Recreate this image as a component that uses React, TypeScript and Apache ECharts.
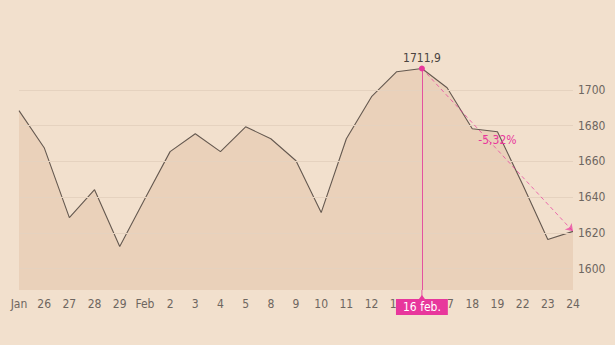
import React, { useEffect, useRef } from "react";
import * as echarts from "echarts";

const categories = ["Jan", "26", "27", "28", "29", "Feb", "2", "3", "4", "5", "8", "9", "10", "11", "12", "15", "16", "17", "18", "19", "22", "23", "24"];
const values = [1688.3, 1667.6, 1628.5, 1644.1, 1612.3, 1639.0, 1665.4, 1675.4, 1665.4, 1679.3, 1672.6, 1660.3, 1631.3, 1672.6, 1696.1, 1710.1, 1711.9, 1701.1, 1678.2, 1676.5, 1647.0, 1616.2, 1620.8];
const gridValues = [1600, 1620, 1640, 1660, 1680, 1700];
const peakCategory = "16";
const peakValue = 1711.9;
const peakLabel = "1711,9";
const peakDateLabel = "16 feb.";
const lastCategory = "24";
const lastValue = 1620.8;
const changeLabel = "-5,32%";
const midCategory = "19";

const PINK = "#E8379C";
const FONT = "'Liberation Sans Narrow', 'DejaVu Sans Condensed', sans-serif";
const BG = "#F2E0CD";

export default function App() {
  const ref = useRef<HTMLDivElement>(null);
  useEffect(() => {
    document.body.style.margin = "0";
    document.body.style.background = BG;
    const chart = echarts.init(ref.current!, null, { renderer: "svg" });
    const yMin = 1588;
    const yMax = 1720;
    chart.setOption({
      animation: false,
      backgroundColor: BG,
      textStyle: { fontFamily: FONT },
      grid: { left: 19, right: 42, top: 54, bottom: 55 },
      xAxis: {
        type: "category",
        data: categories,
        boundaryGap: false,
        axisLine: { show: false },
        axisTick: { show: false },
        splitLine: { show: false },
        axisLabel: { color: "#6E6660", fontSize: 12, margin: 8, fontFamily: FONT, interval: 0 },
      },
      yAxis: {
        type: "value",
        position: "right",
        min: yMin,
        max: yMax,
        splitNumber: 7,
        axisLine: { show: false },
        axisTick: { show: false },
        splitLine: { show: false },
        axisLabel: {
          color: "#6E6660",
          fontSize: 12,
          margin: 5,
          fontFamily: FONT,
          showMinLabel: false,
          showMaxLabel: false,
          formatter: (v: number) => (gridValues.indexOf(v) >= 0 ? String(v) : ""),
        },
      },
      series: [
        {
          type: "line",
          data: values,
          z: 1,
          showSymbol: false,
          silent: true,
          lineStyle: { opacity: 0 },
          areaStyle: { color: "#EAD1BA", opacity: 1 },
          markLine: {
            silent: true,
            symbol: "none",
            label: { show: false },
            lineStyle: { color: "#E5D2BF", width: 1, type: "solid" },
            data: gridValues.map((v) => ({ yAxis: v })),
          },
        },
        {
          type: "line",
          data: values,
          z: 3,
          showSymbol: false,
          silent: true,
          lineStyle: { color: "#655950", width: 1.1 },
          markLine: {
            silent: true,
            symbol: "none",
            lineStyle: { color: "#E4529F", width: 1, type: "solid" },
            label: {
              show: true,
              position: "end",
              distance: 9,
              formatter: peakDateLabel,
              color: "#FFFFFF",
              backgroundColor: PINK,
              padding: [2, 7, 2, 7],
              fontSize: 12,
              fontFamily: FONT,
            },
            data: [[{ coord: [peakCategory, peakValue] }, { coord: [peakCategory, yMin] }]],
          },
        },
        {
          type: "line",
          data: values,
          z: 4,
          showSymbol: false,
          silent: true,
          lineStyle: { opacity: 0 },
          markLine: {
            silent: true,
            symbol: ["none", "arrow"],
            symbolSize: 7,
            lineStyle: { color: PINK, width: 1, type: [4, 3], opacity: 0.7 },
            label: { show: false },
            data: [[{ coord: [peakCategory, peakValue] }, { coord: [lastCategory, lastValue] }]],
          },
          markPoint: {
            silent: true,
            data: [
              {
                coord: [peakCategory, peakValue],
                symbol: "circle",
                symbolSize: 6,
                itemStyle: { color: PINK },
                label: { show: true, position: "top", distance: 1, formatter: peakLabel, color: "#4A4440", fontSize: 12, fontFamily: FONT },
              },
              {
                coord: [midCategory, (peakValue + lastValue) / 2],
                symbol: "circle",
                symbolSize: 0,
                label: { show: true, position: "top", distance: 4, formatter: changeLabel, color: PINK, fontSize: 12, fontFamily: FONT },
              },
              {
                coord: [peakCategory, yMin],
                symbol: "rect",
                symbolSize: [1, 9],
                symbolOffset: [0, 4.5],
                itemStyle: { color: "#E4529F" },
                label: { show: false },
              },
              {
                coord: [peakCategory, yMin],
                symbol: "triangle",
                symbolSize: [6, 4],
                symbolOffset: [0, 7],
                itemStyle: { color: PINK },
                label: { show: false },
              },
            ],
          },
        },
      ],
    });
    return () => chart.dispose();
  }, []);
  return <div ref={ref} style={{ width: 615, height: 345, background: BG }} />;
}
